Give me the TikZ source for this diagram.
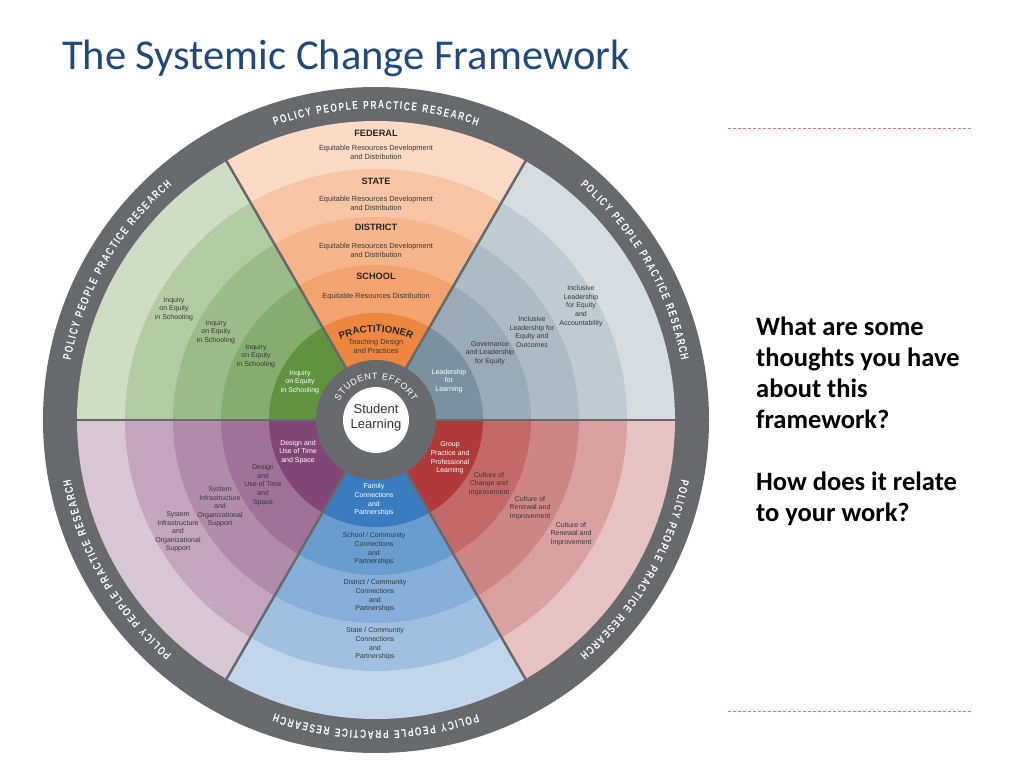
\documentclass[tikz,border=0pt]{standalone}
\usepackage{fontspec}
\setmainfont{Carlito}
\setsansfont{Liberation Sans}
\newfontfamily\ringfont[FakeStretch=0.72]{Liberation Sans}
\usepackage{tikz}
\usetikzlibrary{positioning,decorations.text}
\definecolor{wheelgray}{HTML}{67696C}
\definecolor{titleblue}{HTML}{1F497D}
\definecolor{rulered}{HTML}{D9747E}
\definecolor{labelgray}{HTML}{383838}
\definecolor{scgreen}{RGB}{96,146,64}
\definecolor{scorange}{RGB}{239,134,64}
\definecolor{scslate}{RGB}{122,145,160}
\definecolor{scred}{RGB}{176,58,58}
\definecolor{scblue}{RGB}{58,124,192}
\definecolor{scpurple}{RGB}{130,70,118}

\begin{document}
\begin{tikzpicture}[x=1pt,y=1pt,
  lbl/.style={font=\sffamily\fontsize{7}{8.6}\selectfont, text=labelgray, align=center, inner sep=0pt},
  lblw/.style={lbl, text=white},
  lvl/.style={font=\sffamily\bfseries\fontsize{9.2}{10}\selectfont, text=black!85, inner sep=0pt},
  desc/.style={font=\sffamily\fontsize{7.4}{8.8}\selectfont, text=labelgray, align=center, inner sep=0pt},
  ringlabel/.style={decorate, decoration={text along path, text align=fit to path, text color=white,
    text={|\ringfont\bfseries\fontsize{11.5}{11.5}\selectfont|POLICY PEOPLE PRACTICE RESEARCH}}},
]
\useasboundingbox (-376,-348) rectangle (648,420);

% Title and questions on the right
\node[anchor=base west, font=\fontsize{42.5}{48}\selectfont, text=titleblue, inner sep=0pt] (title) at (-314,350) {The Systemic Change Framework};
\draw[rulered, line width=0.6pt, dash pattern=on 3pt off 2pt] (352,292) -- (596,292);
\draw[rulered, line width=0.6pt, dash pattern=on 3pt off 2pt] (352,-291) -- (596,-291);
\node[anchor=north west, align=left, font=\bfseries\fontsize{26.5}{31}\selectfont, inner sep=0pt] (questions) at (380,103)
  {What are some\\thoughts you have\\about this\\framework?\\[31pt]How does it relate\\to your work?};

% Wheel: outer ring, six sectors of five bands each
\fill[wheelgray] (0,0) circle[radius=333pt];
\foreach \a/\col in {0/scslate,60/scorange,120/scgreen,180/scpurple,240/scblue,300/scred} {
  \foreach \r/\t in {299/31,251/48,203/62,155/76,107/100} {
    \fill[\col!\t!white] (0,0) -- (\a:\r pt) arc[start angle=\a, end angle=\a+60, radius=\r pt] -- cycle;
  }
}
\foreach \a in {0,60,...,300}
  \draw[wheelgray, line width=2.5pt] (\a:58pt) -- (\a:300pt);
\fill[wheelgray] (0,0) circle[radius=60pt];
\fill[white] (0,0) circle[radius=33pt];
\node[font=\sffamily\fontsize{13}{15}\selectfont, text=black!80, align=center, inner sep=0pt] (learning) at (0,2) {Student\\Learning};

% Curved texts
\foreach \c in {90,30,-30,-90,-150,150}
  \path[ringlabel] ({\c+19}:311pt) arc[start angle=\c+19, end angle=\c-19, radius=311pt];
\path[decorate, decoration={text along path, text align=fit to path, text color=white,
  text={|\sffamily\fontsize{9}{9}\selectfont|STUDENT EFFORT}}]
  (153:41pt) arc[start angle=153, end angle=27, radius=41pt];
\path[decorate, decoration={text along path, text align=center, text color=black!85,
  text={|\sffamily\bfseries\fontsize{9.8}{9.8}\selectfont|PRACTITIONER}}]
  (120:88pt) arc[start angle=120, end angle=60, radius=88pt];

% Top sector: levels
\node[lvl] (federal) at (0,287) {FEDERAL};
\node[desc] (federaltxt) at (0,268) {Equitable Resources Development\\and Distribution};
\node[lvl] (state) at (0,239) {STATE};
\node[desc] (statetxt) at (0,217) {Equitable Resources Development\\and Distribution};
\node[lvl] (district) at (0,193) {DISTRICT};
\node[desc] (districttxt) at (0,170) {Equitable Resources Development\\and Distribution};
\node[lvl] (school) at (0,144) {SCHOOL};
\node[desc] (schooltxt) at (0,123) {Equitable Resources Distribution};
\node[desc] (practtxt) at (0,74) {Teaching Design\\and Practices};

% Upper-left sector
\node[lblw] (inq1) at (-76,38) {Inquiry\\on Equity\\in Schooling};
\foreach \x/\y/\n in {-120/64/2,-160/88/3,-202/111/4}
  \node[lbl] (inq\n) at (\x,\y) {Inquiry\\on Equity\\in Schooling};

% Upper-right sector
\node[lblw] (lead1) at (73,39) {Leadership\\for\\Learning};
\node[lbl] (lead2) at (114,67) {Governance\\and Leadership\\for Equity};
\node[lbl] (lead3) at (156,88) {Inclusive\\Leadership for\\Equity and\\Outcomes};
\node[lbl] (lead4) at (205,114) {Inclusive\\Leadership\\for Equity\\and\\Accountability};

% Lower-right sector
\node[lblw] (cult1) at (74,-38) {Group\\Practice and\\Professional\\Learning};
\node[lbl] (cult2) at (113,-64) {Culture of\\Change and\\Improvement};
\node[lbl] (cult3) at (154,-88) {Culture of\\Renewal and\\Improvement};
\node[lbl] (cult4) at (195,-114) {Culture of\\Renewal and\\Improvement};

% Bottom sector
\node[lblw] (conn1) at (-2,-80) {Family\\Connections\\and\\Partnerships};
\node[lbl] (conn2) at (-2,-129) {School / Community\\Connections\\and\\Partnerships};
\node[lbl] (conn3) at (-1,-176) {District / Community\\Connections\\and\\Partnerships};
\node[lbl] (conn4) at (-1,-224) {State / Community\\Connections\\and\\Partnerships};

% Lower-left sector
\node[lblw] (sys1) at (-78,-32) {Design and\\Use of Time\\and Space};
\node[lbl] (sys2) at (-113,-65) {Design\\and\\Use of Time\\and\\Space};
\node[lbl] (sys3) at (-156,-87) {System\\Infrastructure\\and\\Organizational\\Support};
\node[lbl] (sys4) at (-198,-112) {System\\Infrastructure\\and\\Organizational\\Support};
\end{tikzpicture}
\end{document}
